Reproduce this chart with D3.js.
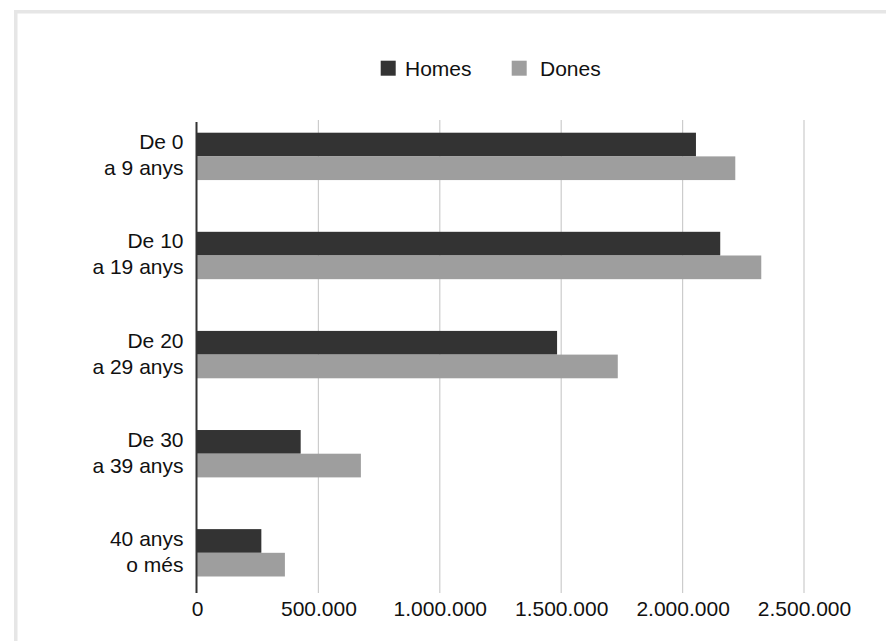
<!DOCTYPE html>
<html>
<head>
<meta charset="utf-8">
<script src="https://cdn.jsdelivr.net/npm/d3@7"></script>
<style>
  html, body { margin: 0; padding: 0; background: #fff; }
  svg { display: block; font-family: "Liberation Sans", Arial, sans-serif; }
</style>
</head>
<body>
<svg id="chart" width="886" height="641"></svg>
<script>
const categories = [
  ["De 0", "a 9 anys"],
  ["De 10", "a 19 anys"],
  ["De 20", "a 29 anys"],
  ["De 30", "a 39 anys"],
  ["40 anys", "o més"]
];
const seriesNames = ["Homes", "Dones"];
const homes = [2055000, 2155000, 1483000, 427000, 265000];
const dones = [2217000, 2324000, 1733000, 675000, 362000];
const tickValues = [0, 500000, 1000000, 1500000, 2000000, 2500000];
const colors = ["#333333", "#9e9e9e"];

const svg = d3.select("#chart");
const W = 886, H = 641;

// frame
svg.append("rect").attr("x", 14).attr("y", 10).attr("width", W - 14).attr("height", 3.5).attr("fill", "#e6e6e6");
svg.append("rect").attr("x", 14).attr("y", 10).attr("width", 3.5).attr("height", H - 10).attr("fill", "#e6e6e6");

const keys = categories.map(c => c.join(" "));
const x = d3.scaleLinear().domain([0, 2500000]).range([197, 804]);
const y = d3.scaleBand().domain(keys).range([122, 587.2]).paddingInner(0.522).paddingOuter(0.108);
const ySub = d3.scaleBand().domain(seriesNames).range([0, y.bandwidth()]);

const locale = d3.formatLocale({ decimal: ",", thousands: ".", grouping: [3], currency: ["", "€"] });
const fmt = locale.format(",d");

// gridlines
svg.append("g").selectAll("line").data(tickValues.slice(1)).join("line")
  .attr("x1", d => x(d)).attr("x2", d => x(d))
  .attr("y1", 120).attr("y2", 593)
  .attr("stroke", "#cccccc").attr("stroke-width", 1.2);

// x axis labels
const xAxis = d3.axisBottom(x).tickValues(tickValues).tickFormat(fmt).tickSize(0).tickPadding(0);
const gx = svg.append("g").attr("transform", "translate(0,600)").call(xAxis);
gx.select(".domain").remove();
gx.selectAll("text").attr("font-size", 21).attr("fill", "#111").attr("dy", "0.75em")
  .attr("font-family", "'Liberation Sans', Arial, sans-serif");

// bars
const data = keys.map((k, i) => ({ key: k, values: [homes[i], dones[i]] }));
const groups = svg.append("g").selectAll("g").data(data).join("g")
  .attr("transform", d => `translate(0,${y(d.key)})`);
groups.selectAll("rect").data(d => d.values.map((v, j) => ({ v, s: seriesNames[j], c: colors[j] }))).join("rect")
  .attr("x", x(0))
  .attr("y", d => ySub(d.s))
  .attr("width", d => x(d.v) - x(0))
  .attr("height", ySub.bandwidth())
  .attr("fill", d => d.c);

// y axis line
svg.append("line").attr("x1", 196.5).attr("x2", 196.5).attr("y1", 122).attr("y2", 593)
  .attr("stroke", "#333").attr("stroke-width", 2);

// y labels
const yl = svg.append("g").selectAll("text").data(categories).join("text")
  .attr("text-anchor", "end")
  .attr("font-size", 21)
  .attr("fill", "#111")
  .attr("transform", (d, i) => `translate(183.5,${y(keys[i]) + y.bandwidth() / 2})`);
yl.selectAll("tspan").data(d => d).join("tspan")
  .attr("x", 0)
  .attr("y", (d, j) => j === 0 ? -7 : 19)
  .text(d => d);

// legend
const legendItems = [{ name: "Homes", c: colors[0], sx: 380.7, tx: 405 }, { name: "Dones", c: colors[1], sx: 511.7, tx: 540 }];
const lg = svg.append("g");
legendItems.forEach(it => {
  lg.append("rect").attr("x", it.sx).attr("y", 60.7).attr("width", 15).attr("height", 15).attr("fill", it.c);
  lg.append("text").attr("x", it.tx).attr("y", 75.5).attr("font-size", 21).attr("fill", "#111").text(it.name);
});
</script>
</body>
</html>
